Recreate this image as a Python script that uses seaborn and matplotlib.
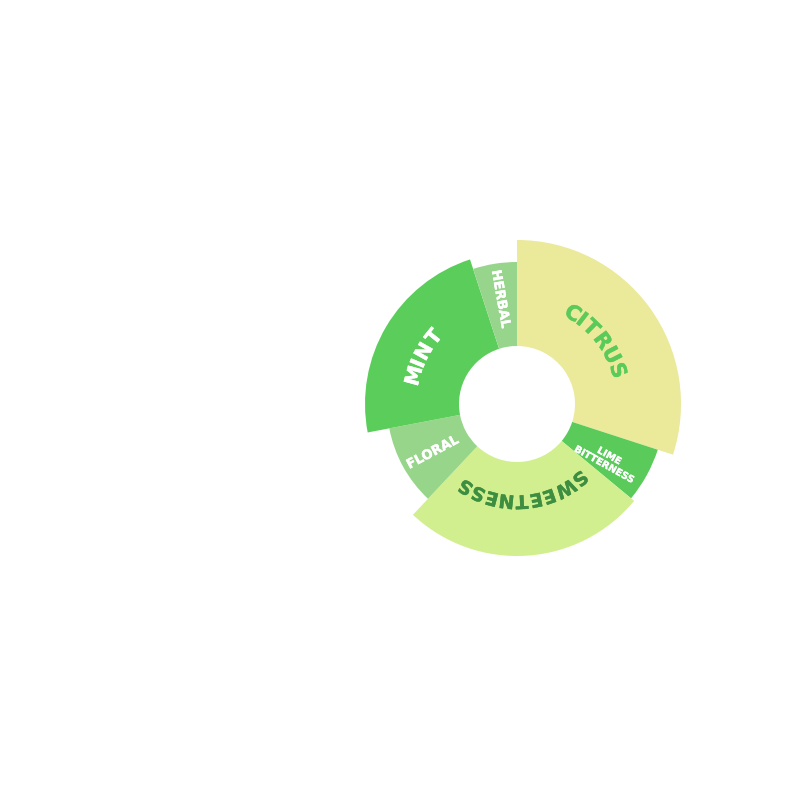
import numpy as np
import matplotlib
matplotlib.use("Agg")
import matplotlib.pyplot as plt
import matplotlib.patheffects as pe
import seaborn as sns
from matplotlib.font_manager import FontProperties
from matplotlib.textpath import TextPath

# flavour profile: share of the wheel (%) and outer radius of each wedge (px units)
flavours = ["CITRUS", "LIME\nBITTERNESS", "SWEETNESS", "FLORAL", "MINT", "HERBAL"]
shares = [30, 6, 26, 10, 23, 5]
outer = [164, 148, 152, 130, 152, 142]
colors = ["#EBE99A", "#5ACB5A", "#D1EF8E", "#97D68A", "#5BCD5B", "#98D58C"]
inner = 58

FONT = "DejaVu Sans"


def bold(color, lw=0.3):
    return [pe.withStroke(linewidth=lw, foreground=color)]


def arc_text(ax, text, theta_c, r, size, color, spacing=1.08):
    fp = FontProperties(family=FONT, weight="bold")
    widths = []
    for i in range(len(text)):
        w1 = TextPath((0, 0), text[: i + 1], size=size, prop=fp).get_extents().width
        w0 = TextPath((0, 0), text[:i], size=size, prop=fp).get_extents().width if i else 0
        widths.append((w1 - w0) * 100 / 72 * spacing)
    total = np.degrees(sum(widths) / r)
    th = theta_c - total / 2
    for ch, w in zip(text, widths):
        d = np.degrees(w / r)
        c = th + d / 2
        ax.text(np.radians(c), r, ch, rotation=-c, rotation_mode="anchor",
                ha="center", va="center", fontsize=size, color=color,
                family=FONT, weight="bold", path_effects=bold(color))
        th += d


sns.set_theme(style="white")
fig = plt.figure(figsize=(8, 8), dpi=100)
ax = fig.add_axes([(517 - 200) / 800, (396 - 200) / 800, 0.5, 0.5], projection="polar")
ax.set_theta_zero_location("N")
ax.set_theta_direction(-1)

widths = np.radians(np.array(shares) * 3.6)
starts = np.concatenate([[0], np.cumsum(widths)[:-1]])
ax.bar(starts, np.array(outer) - inner, width=widths, bottom=inner, align="edge",
       color=colors, linewidth=0)
ax.set_ylim(0, 200)
ax.set_axis_off()

arc_text(ax, "CITRUS", 52, 106, 15, "#5ACB5A")
arc_text(ax, "SWEETNESS", 176, 97, 13.5, "#3E8E41")
arc_text(ax, "MINT", 297, 106, 14.5, "white")
ax.text(np.radians(351), 106, "HERBAL", rotation=-80, ha="center", va="center",
        fontsize=9.5, color="white", family=FONT, weight="bold", rotation_mode="anchor",
        path_effects=bold("white", 0.3))
ax.text(np.radians(240), 97, "FLORAL", rotation=28, ha="center", va="center",
        fontsize=9.5, color="white", family=FONT, weight="bold", rotation_mode="anchor",
        path_effects=bold("white", 0.3))
ax.text(np.radians(122), 106, flavours[1], rotation=-29, ha="center", va="center",
        fontsize=7, color="white", family=FONT, weight="bold", rotation_mode="anchor",
        linespacing=1.0, multialignment="center", path_effects=bold("white", 0.2))

fig.savefig("out.png", dpi=100)
